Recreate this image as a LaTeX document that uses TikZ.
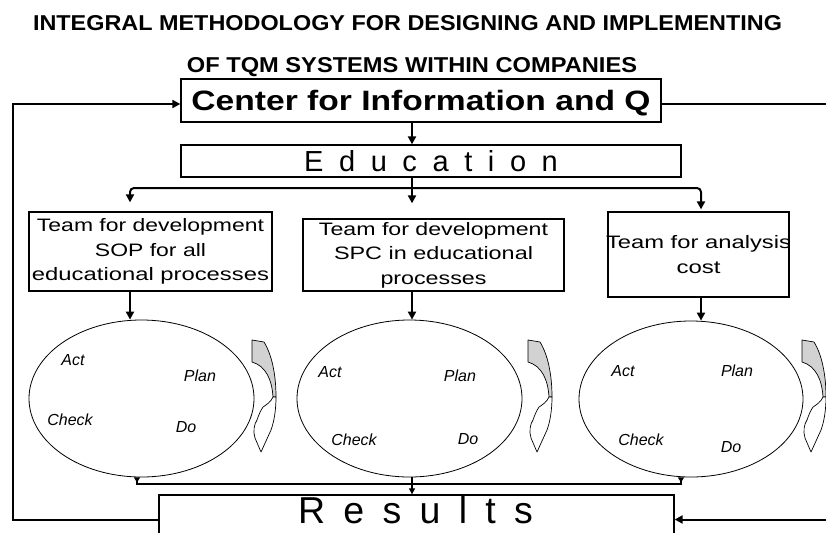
\documentclass[tikz,border=0pt]{standalone}
\usepackage{fontspec}
\setmainfont{Liberation Sans}
\usepackage{graphicx}
\usetikzlibrary{arrows.meta,shapes.geometric}
\newcommand\fitw[2]{\resizebox{#1}{\height}{#2}}
\newcommand\edugap{\hspace{15.6pt}}
\newcommand\resgap{\hspace{18.3pt}}
\tikzset{
  box/.style={draw, line width=1.3pt, inner sep=0pt, rectangle},
  thk/.style={line width=2pt},
  thn/.style={line width=1.1pt},
  arr/.style={-{Triangle[length=8pt,width=8pt]}},
  sarr/.style={-{Triangle[length=6pt,width=6pt]}},
  rtip/.style={{Triangle[reversed,length=5pt,width=6pt]}-},
  cyc/.style={draw, ellipse, line width=0.8pt, inner sep=0pt},
  pdca/.style={font=\fontsize{16}{18}\selectfont\itshape, inner sep=0pt},
  teamfont/.style={font=\fontsize{18}{24.5}\selectfont, align=center},
  curvarr/.pic={
    \filldraw[fill=gray!35, line width=0.7pt, line join=round]
      (0,0) -- (12,2) .. controls (20,15) and (24,35) .. (24,57)
      -- (21,57) .. controls (20,40) and (14,26) .. (0,22) -- cycle;
    \filldraw[fill=white, line width=0.7pt, line join=round]
      (24,57) .. controls (24,70) and (22,82) .. (19,90)
      -- (9,112) -- (3,98) .. controls (1,92) and (2,84) .. (5,80)
      .. controls (7,74) and (9,70) .. (11,67)
      .. controls (14,65) and (19,62) .. (21,57) -- cycle;
  }
}
\begin{document}
\begin{tikzpicture}[x=1pt,y=-1pt]
\useasboundingbox (0,0) rectangle (826,532);
\fill[white] (0,0) rectangle (826,532);
\clip (0,0) rectangle (826,532);

% titles
\node[anchor=base, inner sep=0pt] (t1) at (407.5,31)
  {\fitw{749pt}{\fontsize{21.5}{24}\selectfont\bfseries INTEGRAL METHODOLOGY FOR DESIGNING AND IMPLEMENTING}};
\node[anchor=base, inner sep=0pt] (t2) at (412,73)
  {\fitw{450pt}{\fontsize{21.5}{24}\selectfont\bfseries OF TQM SYSTEMS WITHIN COMPANIES}};

% main boxes
\node[box, minimum width=480pt, minimum height=43pt, text height=20pt, text depth=0pt] (cinfo) at (421,100.5)
  {\fitw{459pt}{\fontsize{28}{30}\selectfont\bfseries Center for Information and Q}};
\node[box, minimum width=500pt, minimum height=32pt, text height=20.8pt, text depth=0pt,
      font=\fontsize{29}{31}\selectfont] (edu) at (431,161)
  {E\edugap d\edugap u\edugap c\edugap a\edugap t\edugap i\edugap o\edugap n};

% team boxes
\node[box, teamfont, minimum width=243pt, minimum height=79pt] (team1) at (150.5,251.5)
  {\fitw{227pt}{Team for development}\\ \fitw{111pt}{SOP for all}\\ \fitw{237pt}{educational processes}};
\node[box, teamfont, minimum width=261pt, minimum height=72pt] (team2) at (433.5,255)
  {\fitw{229pt}{Team for development}\\ \fitw{199pt}{SPC in educational}\\ \fitw{106pt}{processes}};
\node[box, teamfont, minimum width=181pt, minimum height=85pt] (team3) at (698.5,254.5)
  {\makebox[170pt]{\fitw{185pt}{Team for analysis}}\\ \fitw{44pt}{cost}};

% PDCA ellipses
\node[cyc, minimum width=225pt, minimum height=157pt] (ell1) at (141.5,398.5) {};
\node[cyc, minimum width=225pt, minimum height=157pt] (ell2) at (409.5,398.5) {};
\node[cyc, minimum width=224pt, minimum height=156pt] (ell3) at (691,399) {};

\node[pdca] (act1) at (73,360) {Act};
\node[pdca] (plan1) at (200,376) {Plan};
\node[pdca] (check1) at (70,420) {Check};
\node[pdca] (do1) at (186,427) {Do};

\node[pdca] (act2) at (330,372) {Act};
\node[pdca] (plan2) at (460,376) {Plan};
\node[pdca] (check2) at (354,440) {Check};
\node[pdca] (do2) at (468,439) {Do};

\node[pdca] (act3) at (623,371) {Act};
\node[pdca] (plan3) at (737,371) {Plan};
\node[pdca] (check3) at (641,440) {Check};
\node[pdca] (do3) at (731,447) {Do};

% curved arrows
\pic at (252,340) {curvarr};
\pic at (528,340) {curvarr};
\pic at (802,340) {curvarr};

% results (box runs past the lower edge, as in the reference)
\node[box, minimum width=515pt, minimum height=49pt] (results) at (416.5,519.5) {};
\node[anchor=base, inner sep=0pt, font=\fontsize{37.5}{40}\selectfont] (restext) at (415.5,523.5)
  {R\resgap e\resgap s\resgap u\resgap l\resgap t\resgap s};

% column coordinates
\coordinate (a1) at (130,0);
\coordinate (a2) at (412,0);
\coordinate (a3) at (701,0);
\coordinate (bj) at (412,188);
\coordinate (jn) at (412,484);
\coordinate (lft) at (13,104);
\coordinate (rgt) at (834,104);

% connectors
\draw[thk,arr] (cinfo.south -| a2) -- (edu.north -| a2);
\draw[thk,arr,shorten >=15pt] (edu.south -| a2) -- (team2.north -| a2);
\draw[thk,arr,rounded corners=4pt,shorten >=9pt] (bj) -| (team1.north -| a1);
\draw[thk,arr,rounded corners=4pt,shorten >=2pt] (bj) -| (team3.north -| a3);

\draw[thk,arr] (team1.south -| a1) -- (ell1.north -| a1);
\draw[thk,arr] (team2.south -| a2) -- (ell2.north -| a2);
\draw[thk,arr] (team3.south -| a3) -- (ell3.north -| a3);

\draw[thn,rtip] ([xshift=-4.5pt]ell1.south) |- (jn);
\draw[thn,rtip] ([xshift=-10pt]ell3.south) |- (jn);
\draw[thn,sarr] (ell2.south -| a2) -- (results.north -| a2);

\draw[thk,arr] (results.west) -| (lft) -- (cinfo.west |- lft);
\draw[thk,arr] (cinfo.east |- rgt) -- (rgt) |- (results.east);
\end{tikzpicture}
\end{document}
